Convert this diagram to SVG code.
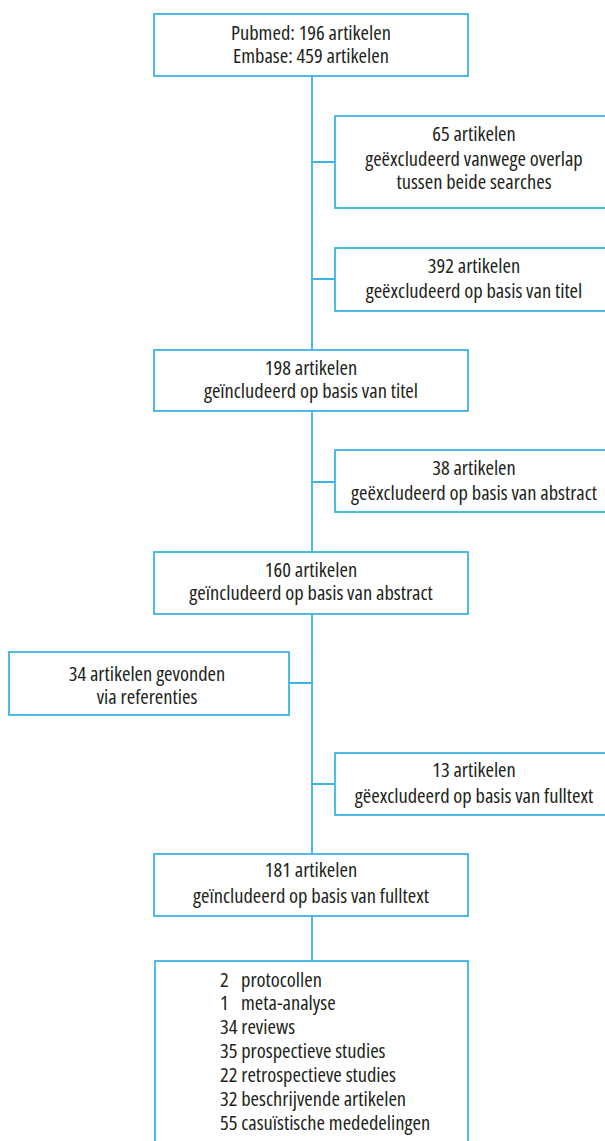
<svg xmlns="http://www.w3.org/2000/svg" width="605" height="1141" viewBox="0 0 605 1141">
<style>
.box{fill:#fff;stroke:#3bb3e8;stroke-width:1.8}
.ln{stroke:#3bb3e8;stroke-width:1.8;fill:none}
text{font-family:"Open Sans","Liberation Sans Narrow",sans-serif;font-stretch:75%;font-size:20.5px;fill:#231f20}
.c{text-anchor:middle}
</style>
<rect width="605" height="1141" fill="#fff"/>
<g id="connectors">
<path class="ln" d="M312 76V350M312 411V552M312 614V854M312 916V961"/>
<path class="ln" d="M312 162H335M312 279H335M312 482H335M312 784H335M289 683H312"/>
</g>
<g id="n1"><rect class="box" x="154" y="14" width="314" height="62"/>
<text class="c" x="311" y="40">Pubmed: 196 artikelen<tspan x="311" y="63">Embase: 459 artikelen</tspan></text></g>
<g id="n2"><rect class="box" x="335" y="116" width="280" height="92"/>
<text class="c" x="474" y="141">65 artikelen<tspan x="474" y="166">geëxcludeerd vanwege overlap</tspan><tspan x="474" y="189">tussen beide searches</tspan></text></g>
<g id="n3"><rect class="box" x="335" y="248" width="280" height="63"/>
<text class="c" x="474" y="273">392 artikelen<tspan x="474" y="298">geëxcludeerd op basis van titel</tspan></text></g>
<g id="n4"><rect class="box" x="154" y="350" width="314" height="61"/>
<text class="c" x="311" y="375">198 artikelen<tspan x="311" y="398">geïncludeerd op basis van titel</tspan></text></g>
<g id="n5"><rect class="box" x="335" y="450" width="280" height="62"/>
<text class="c" x="474" y="475">38 artikelen<tspan x="474" y="500">geëxcludeerd op basis van abstract</tspan></text></g>
<g id="n6"><rect class="box" x="154" y="552" width="314" height="62"/>
<text class="c" x="311" y="577">160 artikelen<tspan x="311" y="600">geïncludeerd op basis van abstract</tspan></text></g>
<g id="n7"><rect class="box" x="9" y="652" width="280" height="63"/>
<text class="c" x="147" y="681">34 artikelen gevonden<tspan x="147" y="704">via referenties</tspan></text></g>
<g id="n8"><rect class="box" x="335" y="753" width="280" height="62"/>
<text class="c" x="474" y="777">13 artikelen<tspan x="474" y="803">gëexcludeerd op basis van fulltext</tspan></text></g>
<g id="n9"><rect class="box" x="154" y="854" width="314" height="62"/>
<text class="c" x="311" y="877">181 artikelen<tspan x="311" y="903">geïncludeerd op basis van fulltext</tspan></text></g>
<g id="n10"><rect class="box" x="155" y="961" width="313" height="200"/>
<text x="220" y="987">2<tspan x="241">protocollen</tspan><tspan x="220" y="1010">1</tspan><tspan x="241">meta-analyse</tspan><tspan x="220" y="1034">34 reviews</tspan><tspan x="220" y="1058">35 prospectieve studies</tspan><tspan x="220" y="1082">22 retrospectieve studies</tspan><tspan x="220" y="1106">32 beschrijvende artikelen</tspan><tspan x="220" y="1130">55 casuïstische mededelingen</tspan></text></g>
</svg>
